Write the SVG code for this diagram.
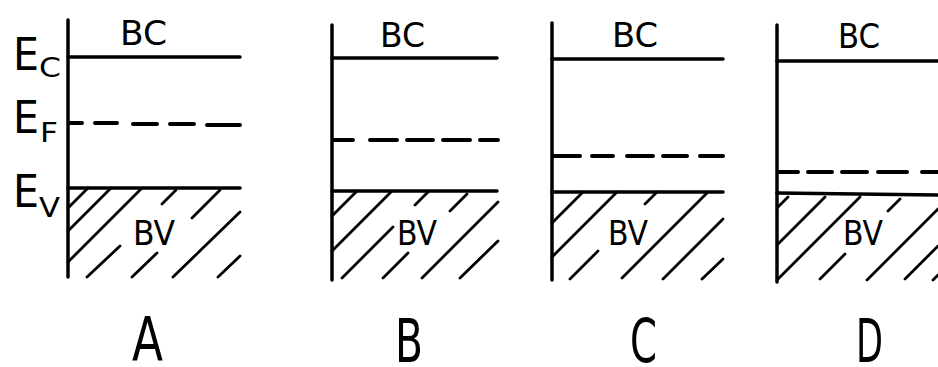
<svg xmlns="http://www.w3.org/2000/svg" width="938" height="367" viewBox="0 0 938 367">
<style>
.ax{stroke:#000;stroke-width:3.5;fill:none;stroke-linecap:round}
.lv{stroke:#000;stroke-width:3.5;fill:none;stroke-linecap:round}
.ds{stroke:#000;stroke-width:4;fill:none;stroke-linecap:round}
.ht{stroke:#000;stroke-width:2.8;fill:none;stroke-linecap:round}
text{font-family:"DejaVu Sans Condensed","DejaVu Sans","Liberation Sans",sans-serif;fill:#000}
.lb{font-size:34px}
.big{font-size:60px}
.e{font-size:44px}
.sub{font-size:26px}
</style>
<rect width="938" height="367" fill="#fff"/>
<g id="axis-labels">
<text class="e" x="13" y="70" textLength="26" lengthAdjust="spacingAndGlyphs">E</text>
<text class="sub" x="39" y="77" textLength="22" lengthAdjust="spacingAndGlyphs">C</text>
<text class="e" x="13" y="133" textLength="26" lengthAdjust="spacingAndGlyphs">E</text>
<text class="sub" x="40" y="142" textLength="18" lengthAdjust="spacingAndGlyphs">F</text>
<text class="e" x="13" y="207" textLength="26" lengthAdjust="spacingAndGlyphs">E</text>
<text class="sub" x="39" y="217" textLength="21" lengthAdjust="spacingAndGlyphs">V</text>
</g>
<g id="panel-A">
<path class="ax" d="M68,20V277"/>
<path class="lv" d="M68,57H240M68,188H240"/>
<path class="ds" d="M70,123H82M95,123H117M133,124H157M170,124H194M207,125H240"/>
<path class="ht" d="M68,208L88,188M68,231L111,188M68,262L142,188M87,277L120,246M162,204L176,190M132,277L157,253M192,218L220,190M173,277L240,212M218,277L240,256"/>
<text class="lb" x="120" y="45" textLength="47" lengthAdjust="spacingAndGlyphs">BC</text>
<text class="lb" x="133" y="245" textLength="42" lengthAdjust="spacingAndGlyphs">BV</text>
<text class="big" x="132" y="360" textLength="31" lengthAdjust="spacingAndGlyphs">A</text>
</g>
<g id="panel-B">
<path class="ax" d="M332,25V280"/>
<path class="lv" d="M332,58H497M332,191H497"/>
<path class="ds" d="M334,140H353M370,140H397M407,140H433M443,140H470M480,140H498"/>
<path class="ht" d="M332,216L357,191M332,251L392,191M342,278L393,227M415,205L428,192M383,278L408,253M450,211L467,194M422,278L498,202M460,278L498,241"/>
<text class="lb" x="380" y="47" textLength="45" lengthAdjust="spacingAndGlyphs">BC</text>
<text class="lb" x="397" y="245" textLength="40" lengthAdjust="spacingAndGlyphs">BV</text>
<text class="big" x="395" y="362" textLength="28" lengthAdjust="spacingAndGlyphs">B</text>
</g>
<g id="panel-C">
<path class="ax" d="M552,23V280"/>
<path class="lv" d="M552,59H723M552,192H723"/>
<path class="ds" d="M554,156H580M592,156H613M627,156H653M663,156H687M700,156H723"/>
<path class="ht" d="M552,223L583,192M552,257L617,192M570,279L598,251M645,204L657,192M622,278L707,193M663,279L723,219M702,279L723,259"/>
<text class="lb" x="612" y="47" textLength="46" lengthAdjust="spacingAndGlyphs">BC</text>
<text class="lb" x="608" y="245" textLength="40" lengthAdjust="spacingAndGlyphs">BV</text>
<text class="big" x="630" y="362" textLength="27" lengthAdjust="spacingAndGlyphs">C</text>
</g>
<g id="panel-D">
<path class="ax" d="M777,25V282"/>
<path class="lv" d="M777,61H940M777,193L940,195"/>
<path class="ds" d="M779,172H798M808,172H832M842,172H867M878,172H907M922,172H940"/>
<path class="ht" d="M777,208L788,197M777,245L825,197M777,280L860,197M820,279L845,254M888,211L900,199M867,280L938,209M905,279L938,246M933,280L938,275"/>
<text class="lb" x="838" y="48" textLength="42" lengthAdjust="spacingAndGlyphs">BC</text>
<text class="lb" x="843" y="245" textLength="40" lengthAdjust="spacingAndGlyphs">BV</text>
<text class="big" x="856" y="362" textLength="27" lengthAdjust="spacingAndGlyphs">D</text>
</g>
</svg>
